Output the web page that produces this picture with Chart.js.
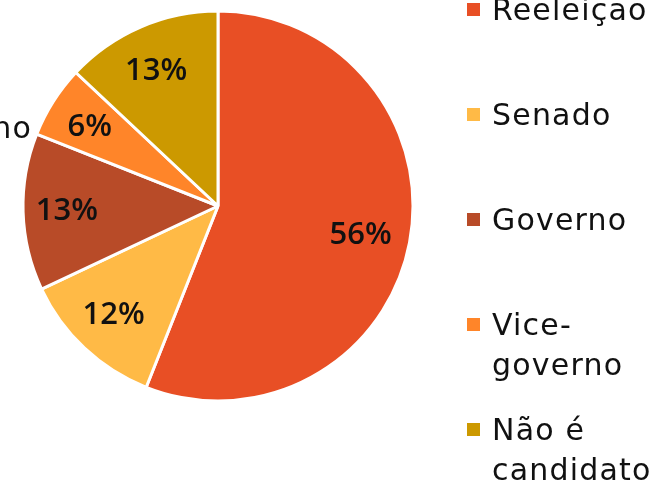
<!DOCTYPE html>
<html>
<head>
<meta charset="utf-8">
<script src="https://cdn.jsdelivr.net/npm/chart.js@4"></script>
<style>
    html, body { margin: 0; padding: 0; background: #fff; }
    #wrap { width: 664px; height: 483px; position: relative; overflow: hidden; }
</style>
</head>
<body>
<div id="wrap"><canvas id="pie" width="664" height="483"></canvas></div>
<script>
const categories = ["Reeleição", "Senado", "Governo", "Vice-governo", "Não é candidato"];
const legendLines = [["Reeleição"], ["Senado"], ["Governo"], ["Vice-", "governo"], ["Não é", "candidato"]];
const shares = [56, 12, 13, 6, 13];
const sliceColors = ["#E84F25", "#FFBA46", "#B84B28", "#FF8529", "#CC9900"];
// cut-off text at the slide's left edge
const edgeText = "Governo";

(function () {
    function init() {
        const el = document.getElementById("pie");
        if (!el || typeof Chart === "undefined") return;

        /* percent labels inside each slice */
        const pctPlugin = {
            id: "pctLabels",
            afterDatasetsDraw(chart) {
                const meta = chart.getDatasetMeta(0);
                const ctx = chart.ctx;
                ctx.save();
                ctx.font = "600 31px 'Open Sans', sans-serif";
                ctx.fillStyle = "#111";
                ctx.textAlign = "center";
                ctx.textBaseline = "middle";
                meta.data.forEach((arc, i) => {
                    const mid = (arc.startAngle + arc.endAngle) / 2;
                    const r = arc.outerRadius * 0.76;
                    ctx.fillText(shares[i] + "%", arc.x + Math.cos(mid) * r - 3, arc.y + Math.sin(mid) * r + 1);
                });
                ctx.restore();
            },
        };

        /* legend on the right, with wrapped names */
        const legendPlugin = {
            id: "sideLegend",
            afterDraw(chart) {
                const ctx = chart.ctx;
                ctx.save();
                ctx.font = "30px 'DejaVu Sans', sans-serif";
                ctx.letterSpacing = "1.2px";
                ctx.textAlign = "left";
                ctx.textBaseline = "alphabetic";
                legendLines.forEach((lines, i) => {
                    const cy = 9.5 + i * 105;
                    ctx.fillStyle = sliceColors[i];
                    ctx.fillRect(467, cy - 6.5, 13, 13);
                    ctx.fillStyle = "#111";
                    lines.forEach((t, j) => ctx.fillText(t, 492, cy + 10.5 + j * 40));
                });
                // fragment of a label that runs off the left edge
                ctx.textAlign = "right";
                ctx.fillText(edgeText, 32, 138);
                ctx.restore();
            },
        };

        new Chart(el, {
            type: "pie",
            data: {
                labels: categories,
                datasets: [
                    {
                        data: shares,
                        backgroundColor: sliceColors,
                        borderColor: "#fff",
                        borderWidth: 3,
                        radius: 195,
                    },
                ],
            },
            plugins: [pctPlugin, legendPlugin],
            options: {
                responsive: false,
                animation: false,
                layout: { padding: { left: 23, top: 11, right: 251, bottom: 82 } },
                plugins: {
                    legend: { display: false },
                    tooltip: { enabled: false },
                },
            },
        });
    }

    if (document.readyState === "loading") {
        document.addEventListener("DOMContentLoaded", init);
    } else {
        init();
    }
})();
</script>
</body>
</html>
